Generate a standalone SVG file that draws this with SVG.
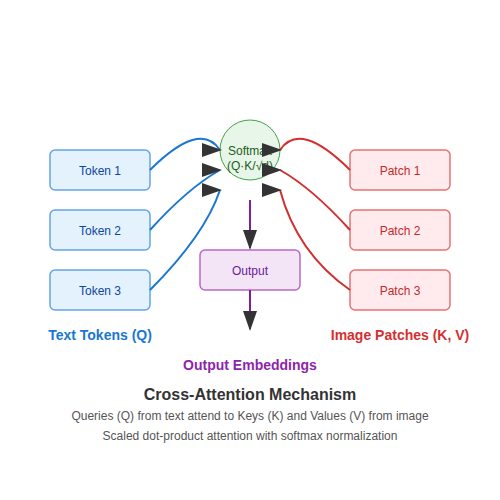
<svg xmlns="http://www.w3.org/2000/svg" width="500" height="500" viewBox="0 0 500 500">
<style>
text{font-family:"Liberation Sans",Arial,sans-serif;text-anchor:middle}
.tok rect{fill:#e3f2fd;stroke:#64a5e8;stroke-width:1.5}
.tok text{fill:#0d47a1;font-size:12px}
.pat rect{fill:#ffebee;stroke:#e57373;stroke-width:1.5}
.pat text{fill:#c62828;font-size:12px}
.blue{fill:none;stroke:#1976d2;stroke-width:2}
.red{fill:none;stroke:#d32f2f;stroke-width:2}
.pur{fill:none;stroke:#7b1fa2;stroke-width:2}
.lbl{font-size:14px;font-weight:bold}
.sub{font-size:12px;fill:#555}
</style>
<defs>
<marker id="ah" markerWidth="10" markerHeight="7" refX="9" refY="3.5" markerUnits="strokeWidth">
<polygon points="0 0,10 3.5,0 7" fill="#333"/>
</marker>
<marker id="ahd" markerWidth="10" markerHeight="7" refX="9" refY="3.5" orient="auto" markerUnits="strokeWidth">
<polygon points="0 0,10 3.5,0 7" fill="#333"/>
</marker>
</defs>
<rect width="500" height="500" fill="#fff"/>
<g id="softmax">
<circle cx="250" cy="150" r="30" fill="#e8f5e9" stroke="#43a047" stroke-width="1"/>
<text x="250" y="155" font-size="12" fill="#1b5e20">Softmax</text>
<text x="250" y="170" font-size="12" fill="#1b5e20">(Q·K/√d)</text>
</g>
<g id="token1" class="tok"><rect x="50" y="150" width="100" height="40" rx="5"/><text x="100" y="175">Token 1</text></g>
<g id="token2" class="tok"><rect x="50" y="210" width="100" height="40" rx="5"/><text x="100" y="235">Token 2</text></g>
<g id="token3" class="tok"><rect x="50" y="270" width="100" height="40" rx="5"/><text x="100" y="295">Token 3</text></g>
<g id="patch1" class="pat"><rect x="350" y="150" width="100" height="40" rx="5"/><text x="400" y="175">Patch 1</text></g>
<g id="patch2" class="pat"><rect x="350" y="210" width="100" height="40" rx="5"/><text x="400" y="235">Patch 2</text></g>
<g id="patch3" class="pat"><rect x="350" y="270" width="100" height="40" rx="5"/><text x="400" y="295">Patch 3</text></g>
<g id="output">
<rect x="200" y="250" width="100" height="40" rx="5" fill="#f3e5f5" stroke="#ba68c8" stroke-width="1.5"/>
<text x="250" y="275" font-size="12" fill="#6a1b9a">Output</text>
</g>
<g id="connectors">
<path class="blue" d="M150,170 Q200,120 220,150" marker-end="url(#ah)"/>
<path class="blue" d="M150,230 Q188,188 220,170" marker-end="url(#ah)"/>
<path class="blue" d="M150,290 Q205,235 220,190" marker-end="url(#ah)"/>
<path class="red" d="M350,170 Q300,120 280,150" marker-end="url(#ah)"/>
<path class="red" d="M350,230 Q312,188 280,170" marker-end="url(#ah)"/>
<path class="red" d="M350,290 Q297,253 280,190" marker-end="url(#ah)"/>
<path class="pur" d="M250,200 L250,248" marker-end="url(#ahd)"/>
<path class="pur" d="M250,290 L250,329" marker-end="url(#ahd)"/>
</g>
<text class="lbl" x="100" y="340" fill="#1976d2">Text Tokens (Q)</text>
<text class="lbl" x="400" y="340" fill="#d32f2f">Image Patches (K, V)</text>
<text class="lbl" x="250" y="370" fill="#8e24aa">Output Embeddings</text>
<text x="250" y="400" font-size="16" font-weight="bold" fill="#333">Cross-Attention Mechanism</text>
<text class="sub" x="250" y="420">Queries (Q) from text attend to Keys (K) and Values (V) from image</text>
<text class="sub" x="250" y="440">Scaled dot-product attention with softmax normalization</text>
</svg>
